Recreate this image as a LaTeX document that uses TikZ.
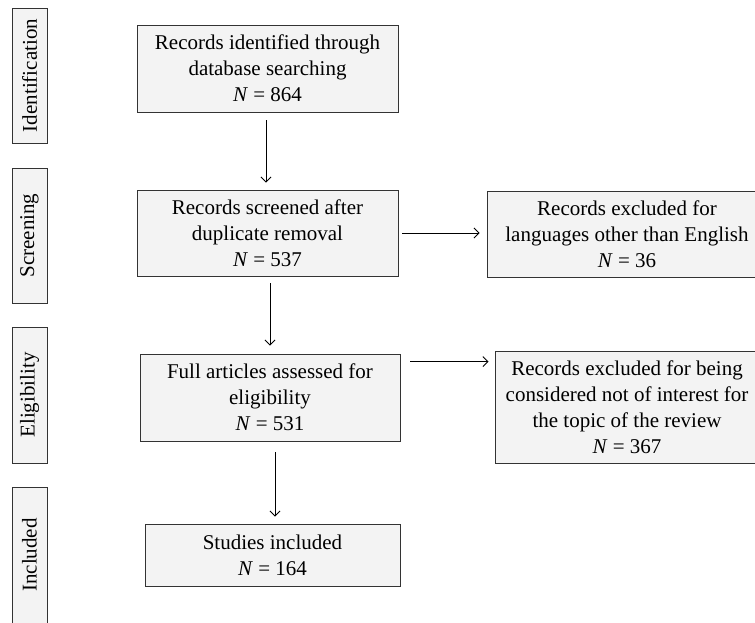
\documentclass[tikz,border=0pt]{standalone}
\usepackage{fontspec}
\setmainfont{Liberation Serif}
\usepackage{tikz}
\usetikzlibrary{arrows.meta,calc}
\definecolor{boxfill}{HTML}{F3F3F3}
\definecolor{edge}{HTML}{333333}
\tikzset{
  box/.style={draw=edge, fill=boxfill, line width=0.9pt, align=center, inner sep=0pt,
    font=\fontsize{21}{26}\selectfont},
  stage/.style={draw=edge, fill=boxfill, line width=0.9pt, rotate=90, inner sep=0pt,
    minimum height=35pt, font=\fontsize{21}{26}\selectfont},
  arr/.style={draw=black, line width=0.9pt, -{Straight Barb[length=5pt,width=10pt]}},
}

\begin{document}
\begin{tikzpicture}[x=1pt,y=-1pt]
  \useasboundingbox (0,0) rectangle (755,622);
  % stages on the left
  \foreach \name/\txt/\y/\h in {sid/Identification/75.5/135, sscr/Screening/235.5/135,
      selig/Eligibility/395/136, sinc/Included/555/136}
    \node[stage, minimum width=\h] (\name) at (29.5,\y) {\txt};
  % main column
  \node[box, minimum width=261, minimum height=87] (ident) at (267.5,68.5)
    {Records identified through\\database searching\\\textit{N} = 864};
  \node[box, minimum width=261, minimum height=86] (screen) at (267.5,233)
    {Records screened after\\duplicate removal\\\textit{N} = 537};
  \node[box, minimum width=260, minimum height=87] (elig) at (270,397.5)
    {Full articles assessed for\\eligibility\\\textit{N} = 531};
  \node[box, minimum width=255, minimum height=62] (incl) at (272.5,555)
    {Studies included\\\textit{N} = 164};
  % exclusions
  \node[box, minimum width=280, minimum height=86] (exlang) at (627,234)
    {Records excluded for\\languages other than English\\\textit{N} = 36};
  \node[box, minimum width=264, minimum height=112] (exint) at (627,407)
    {Records excluded for being\\considered not of interest for\\the topic of the review\\\textit{N} = 367};
  % arrows
  \draw[arr, shorten <=8pt, shorten >=7pt] ([xshift=-1.5pt]ident.south) -- ([xshift=-1.5pt]screen.north);
  \draw[arr, shorten <=7pt, shorten >=8pt] (screen.south -| elig.north) -- (elig.north);
  \draw[arr, shorten <=11pt, shorten >=7pt] ([xshift=2.5pt]elig.south -| incl.north) -- ([xshift=2.5pt]incl.north);
  \draw[arr, shorten <=4pt, shorten >=7pt] (screen.east) -- (screen.east -| exlang.west);
  \draw[arr, shorten <=10pt, shorten >=6pt] ([yshift=-11pt]elig.east |- exint.north) -- ([yshift=-11pt]exint.north west);
\end{tikzpicture}
\end{document}
